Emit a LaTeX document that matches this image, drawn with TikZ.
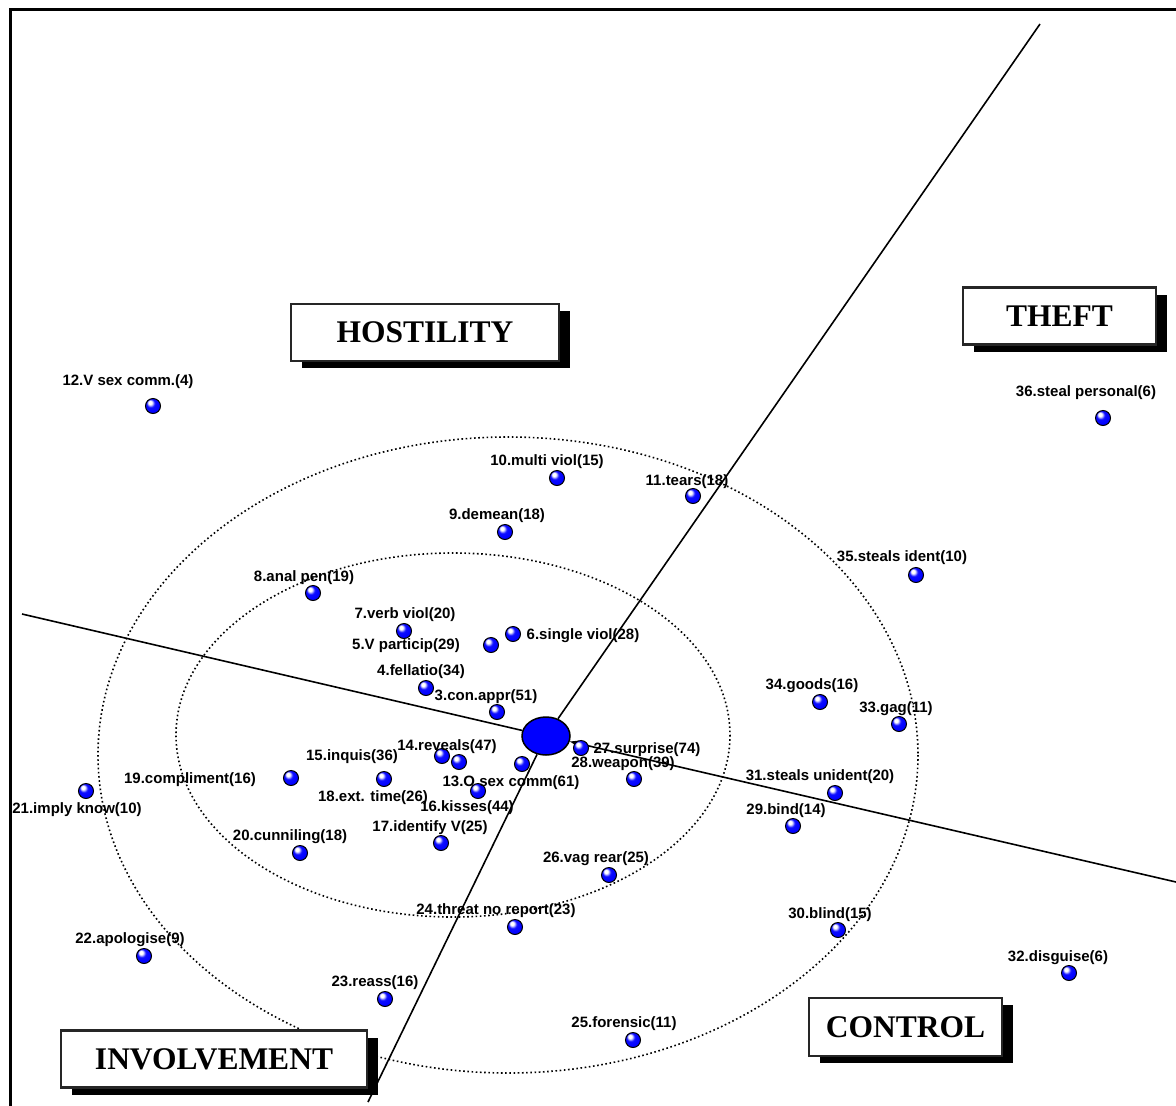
\documentclass[tikz,border=0pt]{standalone}
\usepackage{fontspec}
\setmainfont{Liberation Sans}
\newfontfamily\titlefont{Liberation Serif}
\usetikzlibrary{arrows.meta,shapes.geometric,shadows}
\pgfdeclareradialshading{glossyball}{\pgfpoint{-11bp}{13bp}}{%
	color(0bp)=(white); color(6bp)=(white); color(14bp)=(blue!95!white);
	color(28bp)=(blue); color(42bp)=(blue!75!black); color(50bp)=(blue!60!black)}
\tikzset{
	ball/.style={circle, draw=black, line width=1pt, shading=glossyball, minimum size=15pt, inner sep=0pt},
	lab/.style={inner sep=0pt, font=\bfseries\fontsize{15}{15}\selectfont},
	titlebox/.style={draw=black!85, line width=2.5pt, fill=white, minimum height=57pt, inner sep=0pt,
		font=\titlefont\bfseries\fontsize{31.5}{31.5}\selectfont,
		drop shadow={shadow xshift=11pt, shadow yshift=-7pt, fill=black, opacity=1}},
	ray/.style={line width=1.6pt},
	ring/.style={line width=1.6pt, dash pattern=on 1.6pt off 2.6pt}
}

\begin{document}
\begin{tikzpicture}[x=1pt, y=-1pt]
		%%%%% START %%%%%
		\useasboundingbox (0, 0) rectangle (1176, 1106);
		\draw[line width=2.5pt] (10.5, 1106) -- (10.5, 9.5) -- (1176, 9.5);
		
		% rings
		\draw[ring] (508, 755) ellipse [x radius=410, y radius=318];
		\draw[ring] (453, 735) ellipse [x radius=277, y radius=182];
		
		% centre and axes
		\node[ellipse, draw=black, line width=1.5pt, fill=blue, minimum width=48pt, minimum height=38pt, inner sep=0pt] (ctr) at (546, 736) {};
		\coordinate (endW) at (22, 614);
		\coordinate (endE) at (1176, 882);
		\coordinate (endN) at (1040, 24);
		\coordinate (endS) at (368, 1102);
		\draw[ray] (ctr) -- (endW);
		\draw[ray, {Stealth[length=9pt, width=6pt]}-] (ctr) -- (endE);
		\draw[ray] (ctr) -- (endN);
		\draw[ray] (ctr) -- (endS);
		
		% facets
		\node[titlebox, minimum width=268pt] (hostility) at (425, 332.5) {HOSTILITY};
		\node[titlebox, minimum width=193pt] (theft) at (1059.5, 316) {THEFT};
		\node[titlebox, minimum width=306pt] (involvement) at (214, 1059) {INVOLVEMENT};
		\node[titlebox, minimum width=193pt, minimum height=58pt] (control) at (905.5, 1027) {CONTROL};
		
		% items
		\node[ball] (b3) at (497, 712) {};
		\node[ball] (b4) at (426, 688) {};
		\node[ball] (b5) at (491, 645) {};
		\node[ball] (b6) at (513, 634) {};
		\node[ball] (b7) at (404, 631) {};
		\node[ball] (b8) at (313, 593) {};
		\node[ball] (b9) at (505, 532) {};
		\node[ball] (b10) at (557, 478) {};
		\node[ball] (b11) at (693, 496) {};
		\node[ball] (b12) at (153, 406) {};
		\node[ball] (b13) at (522, 764) {};
		\node[ball] (b14) at (459, 762) {};
		\node[ball] (b15) at (384, 779) {};
		\node[ball] (b16) at (478, 791) {};
		\node[ball] (b17) at (441, 843) {};
		\node[ball] (b18) at (442, 756) {};
		\node[ball] (b19) at (291, 778) {};
		\node[ball] (b20) at (300, 853) {};
		\node[ball] (b21) at (86, 791) {};
		\node[ball] (b22) at (144, 956) {};
		\node[ball] (b23) at (385, 999) {};
		\node[ball] (b24) at (515, 927) {};
		\node[ball] (b25) at (633, 1040) {};
		\node[ball] (b26) at (609, 875) {};
		\node[ball] (b27) at (581, 748) {};
		\node[ball] (b28) at (634, 779) {};
		\node[ball] (b29) at (793, 826) {};
		\node[ball] (b30) at (838, 930) {};
		\node[ball] (b31) at (835, 793) {};
		\node[ball] (b32) at (1069, 973) {};
		\node[ball] (b33) at (899, 724) {};
		\node[ball] (b34) at (820, 702) {};
		\node[ball] (b35) at (916, 575) {};
		\node[ball] (b36) at (1103, 418) {};
		
		\node[lab] (l3) at (486, 697) {3.con.appr(51)};
		\node[lab] (l4) at (421, 672) {4.fellatio(34)};
		\node[lab] (l5) at (406, 646) {5.V particip(29)};
		\node[lab] (l6) at (583, 636) {6.single viol(28)};
		\node[lab] (l7) at (405, 615) {7.verb viol(20)};
		\node[lab] (l8) at (304, 578) {8.anal pen(19)};
		\node[lab] (l9) at (497, 516) {9.demean(18)};
		\node[lab] (l10) at (547, 462) {10.multi viol(15)};
		\node[lab] (l11) at (687, 482) {11.tears(18)};
		\node[lab] (l12) at (128, 382) {12.V sex comm.(4)};
		\node[lab] (l13) at (511, 783) {13.O sex comm(61)};
		\node[lab] (l14) at (447, 747) {14.reveals(47)};
		\node[lab] (l15) at (352, 757) {15.inquis(36)};
		\node[lab] (l16) at (467, 808) {16.kisses(44)};
		\node[lab] (l17) at (430, 828) {17.identify V(25)};
		\node[lab] (l18) at (373, 798) {18.ext. time(26)};
		\node[lab] (l19) at (190, 780) {19.compliment(16)};
		\node[lab] (l20) at (290, 837) {20.cunniling(18)};
		\node[lab] (l21) at (77, 810) {21.imply know(10)};
		\node[lab] (l22) at (130, 940) {22.apologise(9)};
		\node[lab] (l23) at (375, 983) {23.reass(16)};
		\node[lab] (l24) at (496, 911) {24.threat no report(23)};
		\node[lab] (l25) at (624, 1024) {25.forensic(11)};
		\node[lab] (l26) at (596, 859) {26.vag rear(25)};
		\node[lab] (l27) at (647, 750) {27.surprise(74)};
		\node[lab] (l28) at (623, 764) {28.weapon(39)};
		\node[lab] (l29) at (786, 811) {29.bind(14)};
		\node[lab] (l30) at (830, 915) {30.blind(15)};
		\node[lab] (l31) at (820, 777) {31.steals unident(20)};
		\node[lab] (l32) at (1058, 958) {32.disguise(6)};
		\node[lab] (l33) at (896, 709) {33.gag(11)};
		\node[lab] (l34) at (812, 686) {34.goods(16)};
		\node[lab] (l35) at (902, 558) {35.steals ident(10)};
		\node[lab] (l36) at (1086, 393) {36.steal personal(6)};
		%%%%% END %%%%%
	\end{tikzpicture}
\end{document}
